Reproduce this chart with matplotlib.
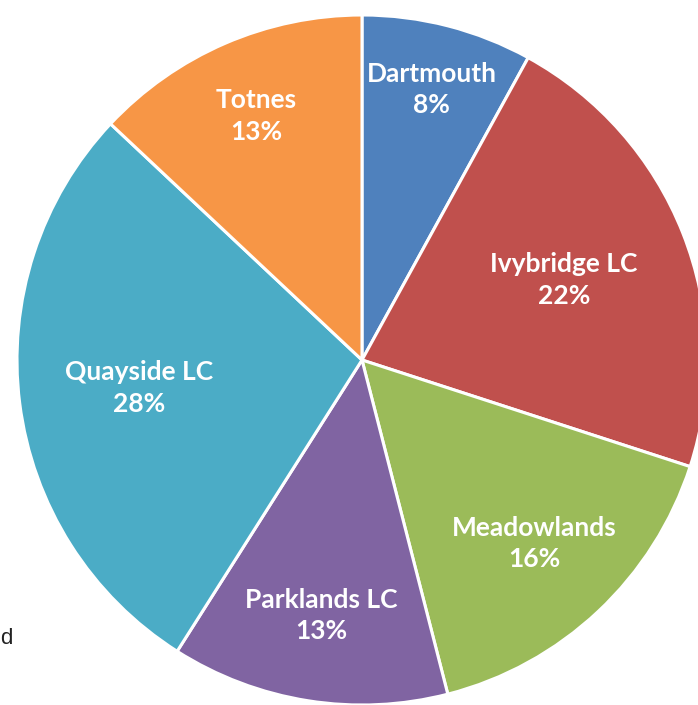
import numpy as np
import matplotlib
matplotlib.use("Agg")
import matplotlib.pyplot as plt

# data
sites = ["Dartmouth", "Ivybridge LC", "Meadowlands", "Parklands LC", "Quayside LC", "Totnes"]
shares = [8, 22, 16, 13, 28, 13]
colours = ["#4F81BD", "#C0504D", "#9BBB59", "#8064A2", "#4BACC6", "#F79646"]

# radial position of each label (fraction of radius), Excel "best fit" look
label_r = [0.81, 0.63, 0.73, 0.75, 0.65, 0.77]

W, H = 698, 705
fig = plt.figure(figsize=(W / 100, H / 100), dpi=100)
ax = fig.add_axes([0, 0, 1, 1])

wedges, _ = ax.pie(shares, colors=colours, startangle=90, counterclock=False,
                   radius=1.0, center=(0, 0),
                   wedgeprops=dict(edgecolor="white", linewidth=2.2))

# pie centre sits at pixel (362, 360), radius 345 px
cx, cy, r = 362, 360, 345
ax.set_xlim(-cx / r, (W - cx) / r)
ax.set_ylim(-(H - cy) / r, cy / r)
ax.set_aspect("auto")
ax.axis("off")

for w, name, val, d in zip(wedges, sites, shares, label_r):
    mid = np.deg2rad((w.theta1 + w.theta2) / 2)
    ax.text(d * np.cos(mid), d * np.sin(mid), f"{name}\n{val}%",
            ha="center", va="center", color="white", fontsize=19,
            fontweight="bold", family="Lato", linespacing=1.38)

# leftover bit of cropped legend text
fig.text(0.5 / W, 1 - 638 / H, "d", ha="left", va="center", fontsize=16,
         color="#222222", family="Liberation Sans")

fig.savefig("out.png", dpi=100)
